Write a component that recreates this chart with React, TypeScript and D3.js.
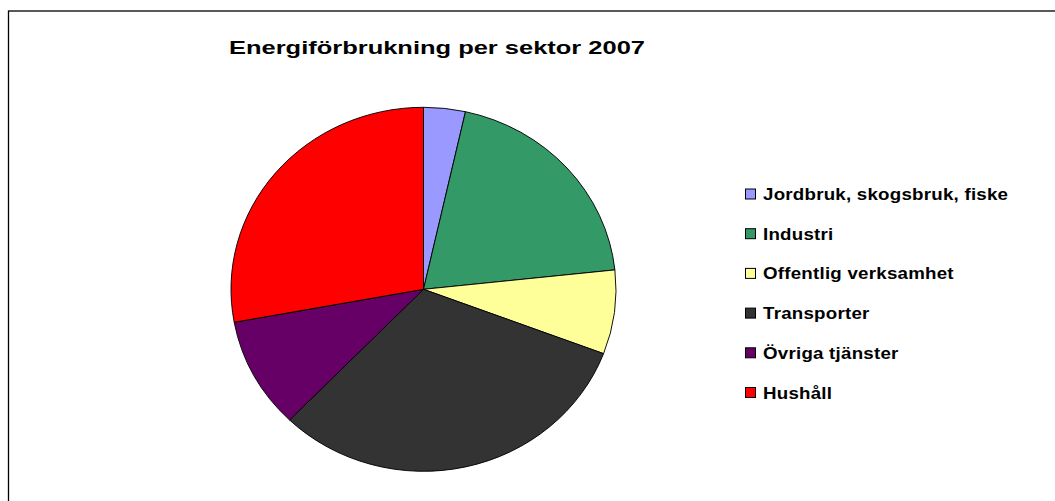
import React from "react";
import * as d3 from "d3";

const title = "Energiförbrukning per sektor 2007";
const categories = [
  "Jordbruk, skogsbruk, fiske",
  "Industri",
  "Offentlig verksamhet",
  "Transporter",
  "Övriga tjänster",
  "Hushåll",
];
const values = [3.5, 19.8, 7.45, 31.5, 9.85, 27.9];
const colors = ["#9999FF", "#339966", "#FFFF99", "#333333", "#660066", "#FF0000"];

export default function App() {
  const W = 1055;
  const H = 501;
  const cx = 423.5;
  const cy = 289.3;
  const ry = 182;
  const rx = 192.5;

  const pie = d3
    .pie<number>()
    .sort(null)
    .value((d) => d)
    .startAngle(0)
    .endAngle(2 * Math.PI);
  const arcs = pie(values);
  const arc = d3.arc<d3.PieArcDatum<number>>().innerRadius(0).outerRadius(ry);

  const legendY = d3
    .scalePoint<number>()
    .domain(d3.range(categories.length))
    .range([194, 392.5]);

  return (
    <svg
      width={W}
      height={H}
      style={{ position: "absolute", left: 0, top: 0, display: "block" }}
      fontFamily="'Liberation Sans', Arial, sans-serif"
    >
      <rect x={0} y={0} width={W} height={H} fill="#fff" />
      <rect
        x={8.5}
        y={11}
        width={1200}
        height={600}
        fill="#fff"
        stroke="#000"
        strokeWidth={1.3}
      />
      <text
        x={437}
        y={54}
        textAnchor="middle"
        fontSize={19}
        fontWeight="bold"
        fill="#000"
        textLength={416}
        lengthAdjust="spacingAndGlyphs"
      >
        {title}
      </text>
      <g transform={`translate(${cx},${cy}) scale(${rx / ry},1)`}>
        {arcs.map((a, i) => (
          <path
            key={i}
            d={arc(a) || ""}
            fill={colors[i]}
            stroke="#000"
            strokeWidth={0.9}
            strokeLinejoin="round"
          />
        ))}
      </g>
      <g>
        {categories.map((c, i) => {
          const y = legendY(i) as number;
          return (
            <g key={i}>
              <rect
                x={745.5}
                y={y - 5}
                width={10}
                height={10}
                fill={colors[i]}
                stroke="#000"
                strokeWidth={1}
              />
              <text
                transform={`translate(763,${y + 6}) scale(1.17,1)`}
                fontSize={16}
                fontWeight="bold"
                letterSpacing={0.2}
                fill="#000"
              >
                {c}
              </text>
            </g>
          );
        })}
      </g>
    </svg>
  );
}
